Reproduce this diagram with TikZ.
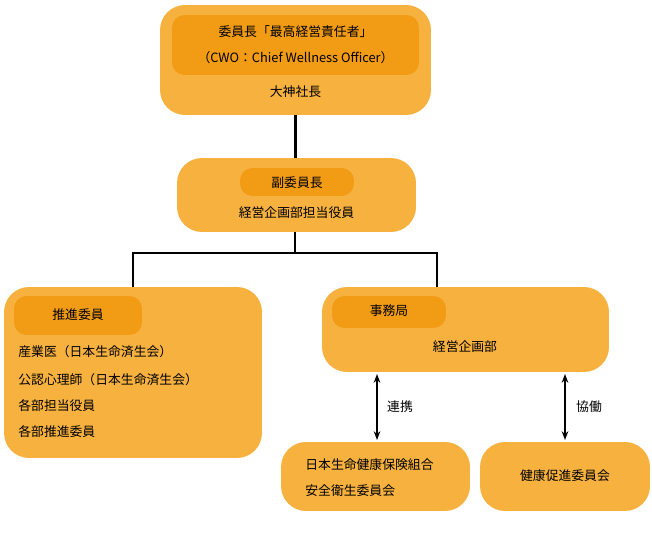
\documentclass[tikz,border=0pt]{standalone}
\usepackage{fontspec}
\setmainfont{Noto Sans CJK JP}
\usetikzlibrary{arrows.meta}
\definecolor{outerorange}{HTML}{F6B13F}
\definecolor{innerorange}{HTML}{F29C16}
\tikzset{
  outerbox/.style={fill=outerorange, rounded corners=0.5cm, inner sep=0pt},
  innerbox/.style={fill=innerorange, rounded corners=0.25cm, inner sep=0pt},
  label/.style={font=\fontsize{7.3}{9}\selectfont, inner sep=0pt},
  link/.style={line width=1.2pt},
  both/.style={line width=1.2pt, {Stealth[length=5pt]}-{Stealth[length=5pt]}}
}
\begin{document}
\begin{tikzpicture}[x=0.02cm, y=-0.02cm]
				% Frame:
				\useasboundingbox (0, 0) rectangle (652, 550);
				% Boxes:
				\node[outerbox, minimum width=5.42cm, minimum height=2.2cm](Chair) at (295.5, 60){};
				\node[innerbox, minimum width=4.94cm, minimum height=1.2cm](ChairIn) at (295.5, 45){};
				\node[label] at (295.5, 32){委員長「最高経営責任者」};
				\node[label] at (295.5, 58){（CWO：Chief Wellness Officer）};
				\node[label] at (295.5, 92){大神社長};
				\node[outerbox, minimum width=4.78cm, minimum height=1.48cm](Vice) at (296.5, 195){};
				\node[innerbox, minimum width=2.28cm, minimum height=0.56cm](ViceIn) at (297, 182){};
				\node[label] at (297, 183){副委員長};
				\node[label] at (296.5, 213){経営企画部担当役員};
				\node[outerbox, minimum width=5.16cm, minimum height=3.42cm](Members) at (133, 372.5){};
				\node[innerbox, minimum width=2.56cm, minimum height=0.78cm](MembersIn) at (78, 315.5){};
				\node[label] at (78, 315){推進委員};
				\node[label, anchor=west] at (18, 352){産業医（日本生命済生会）};
				\node[label, anchor=west] at (18, 380){公認心理師（日本生命済生会）};
				\node[label, anchor=west] at (18, 406){各部担当役員};
				\node[label, anchor=west] at (18, 432){各部推進委員};
				\node[outerbox, minimum width=5.74cm, minimum height=1.7cm](Office) at (465.5, 329.5){};
				\node[innerbox, minimum width=2.28cm, minimum height=0.64cm](OfficeIn) at (389, 312){};
				\node[label] at (389, 311){事務局};
				\node[label] at (465, 347){経営企画部};
				\node[outerbox, minimum width=3.78cm, minimum height=1.38cm](Union) at (375.5, 476.5){};
				\node[label, anchor=west] at (305, 465){日本生命健康保険組合};
				\node[label, anchor=west] at (305, 491){安全衛生委員会};
				\node[outerbox, minimum width=3.4cm, minimum height=1.38cm](Health) at (565, 476.5){};
				\node[label] at (565, 476){健康促進委員会};
				% Connectors:
				\coordinate (split) at (295, 253);
				\draw[link] (Chair.south) -- (Chair.south |- Vice.north);
				\draw[link] (Vice.south -| split) -- (split);
				\draw[link] (133, 287) |- (split) -| (437, 287);
				\draw[both] (377, 374) -- (377, 440);
				\node[label] at (400, 407){連携};
				\draw[both] (565, 374) -- (565, 440);
				\node[label] at (589, 407){協働};
			\end{tikzpicture}
\end{document}
